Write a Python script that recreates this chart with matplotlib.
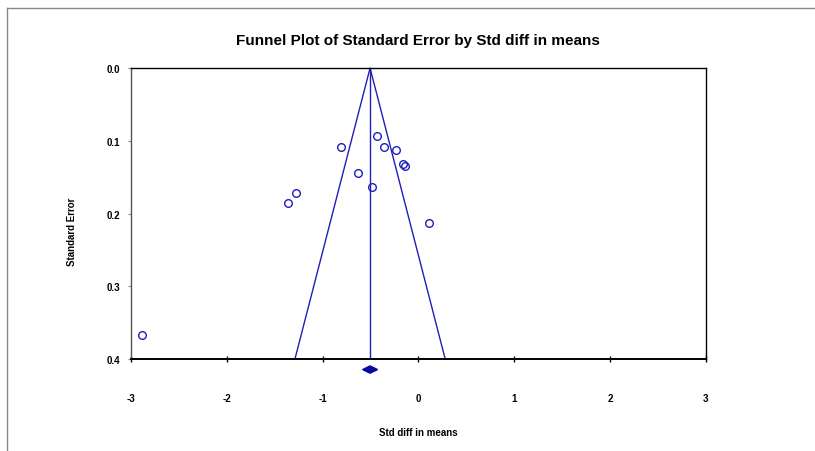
import matplotlib.pyplot as plt
from matplotlib.lines import Line2D
from matplotlib.patches import Polygon

# Study data
std_diff = [-0.435, -0.811, -0.364, -0.239, -0.164, -0.144, -0.636, -0.480, -1.283, -1.358, 0.112, -2.880]
std_err = [0.094, 0.108, 0.108, 0.112, 0.132, 0.135, 0.144, 0.164, 0.172, 0.186, 0.2125, 0.367]

mean_effect = -0.505   # pooled estimate
z = 1.96
se_max = 0.4
ci_half = 0.078        # half width of the summary diamond

xticks = [-3, -2, -1, 0, 1, 2, 3]
yticks = [0.0, 0.1, 0.2, 0.3, 0.4]

blue = '#1f1fb8'
plt.rcParams['font.family'] = ['Liberation Sans', 'DejaVu Sans']

fig = plt.figure(figsize=(8.15, 4.52), dpi=100)
ax = fig.add_axes([0.1607, 0.2035, 0.7055, 0.6437])

# funnel and mean line
ax.plot([mean_effect - z * se_max, mean_effect, mean_effect + z * se_max], [se_max, 0, se_max],
        color=blue, lw=1.0, clip_on=False)
ax.plot([mean_effect, mean_effect], [0, se_max], color=blue, lw=1.0)

ax.plot(std_diff, std_err, 'o', mfc='none', mec=blue, ms=5.5, mew=1.0, clip_on=False)

# summary diamond below the axis
dy = 0.0145
dh = 0.005
ax.add_patch(Polygon([[mean_effect - ci_half, se_max + dy], [mean_effect, se_max + dy - dh],
                      [mean_effect + ci_half, se_max + dy], [mean_effect, se_max + dy + dh]],
                     closed=True, color='#0a0aa0', clip_on=False))

ax.set_xlim(-3, 3)
ax.set_ylim(0.4, 0.0)
ax.set_xticks(xticks)
ax.set_xticklabels([str(t) for t in xticks])
ax.set_yticks(yticks)
ax.set_yticklabels(['%.1f' % t for t in yticks])
for lbl in ax.get_xticklabels() + ax.get_yticklabels():
    lbl.set_fontweight('bold')
    lbl.set_fontsize(7)
ax.tick_params(axis='x', direction='inout', length=5, width=1, pad=22)
ax.tick_params(axis='y', direction='out', length=2, width=0.8, pad=6, color='#888888')
for s in ax.spines.values():
    s.set_color('black')
    s.set_linewidth(1.0)
ax.spines['left'].set_color('#555555')
ax.spines['bottom'].set_linewidth(1.4)

ax.set_xlabel('Std diff in means', fontsize=7, fontweight='bold')
ax.xaxis.set_label_coords(0.5, -0.235)
ax.set_ylabel('Standard Error', fontsize=7, fontweight='bold')
ax.yaxis.set_label_coords(-0.094, 0.44)

fig.text(0.513, 0.91, 'Funnel Plot of Standard Error by Std diff in means',
         ha='center', va='center', fontsize=11, fontweight='bold')

# outer frame lines of the original chart area
fig.add_artist(Line2D([7 / 815, 1], [1 - 9 / 452, 1 - 9 / 452], color='#888888', lw=1))
fig.add_artist(Line2D([7 / 815, 7 / 815], [0, 1 - 9 / 452], color='#888888', lw=1))

fig.savefig('out.png', dpi=100)
